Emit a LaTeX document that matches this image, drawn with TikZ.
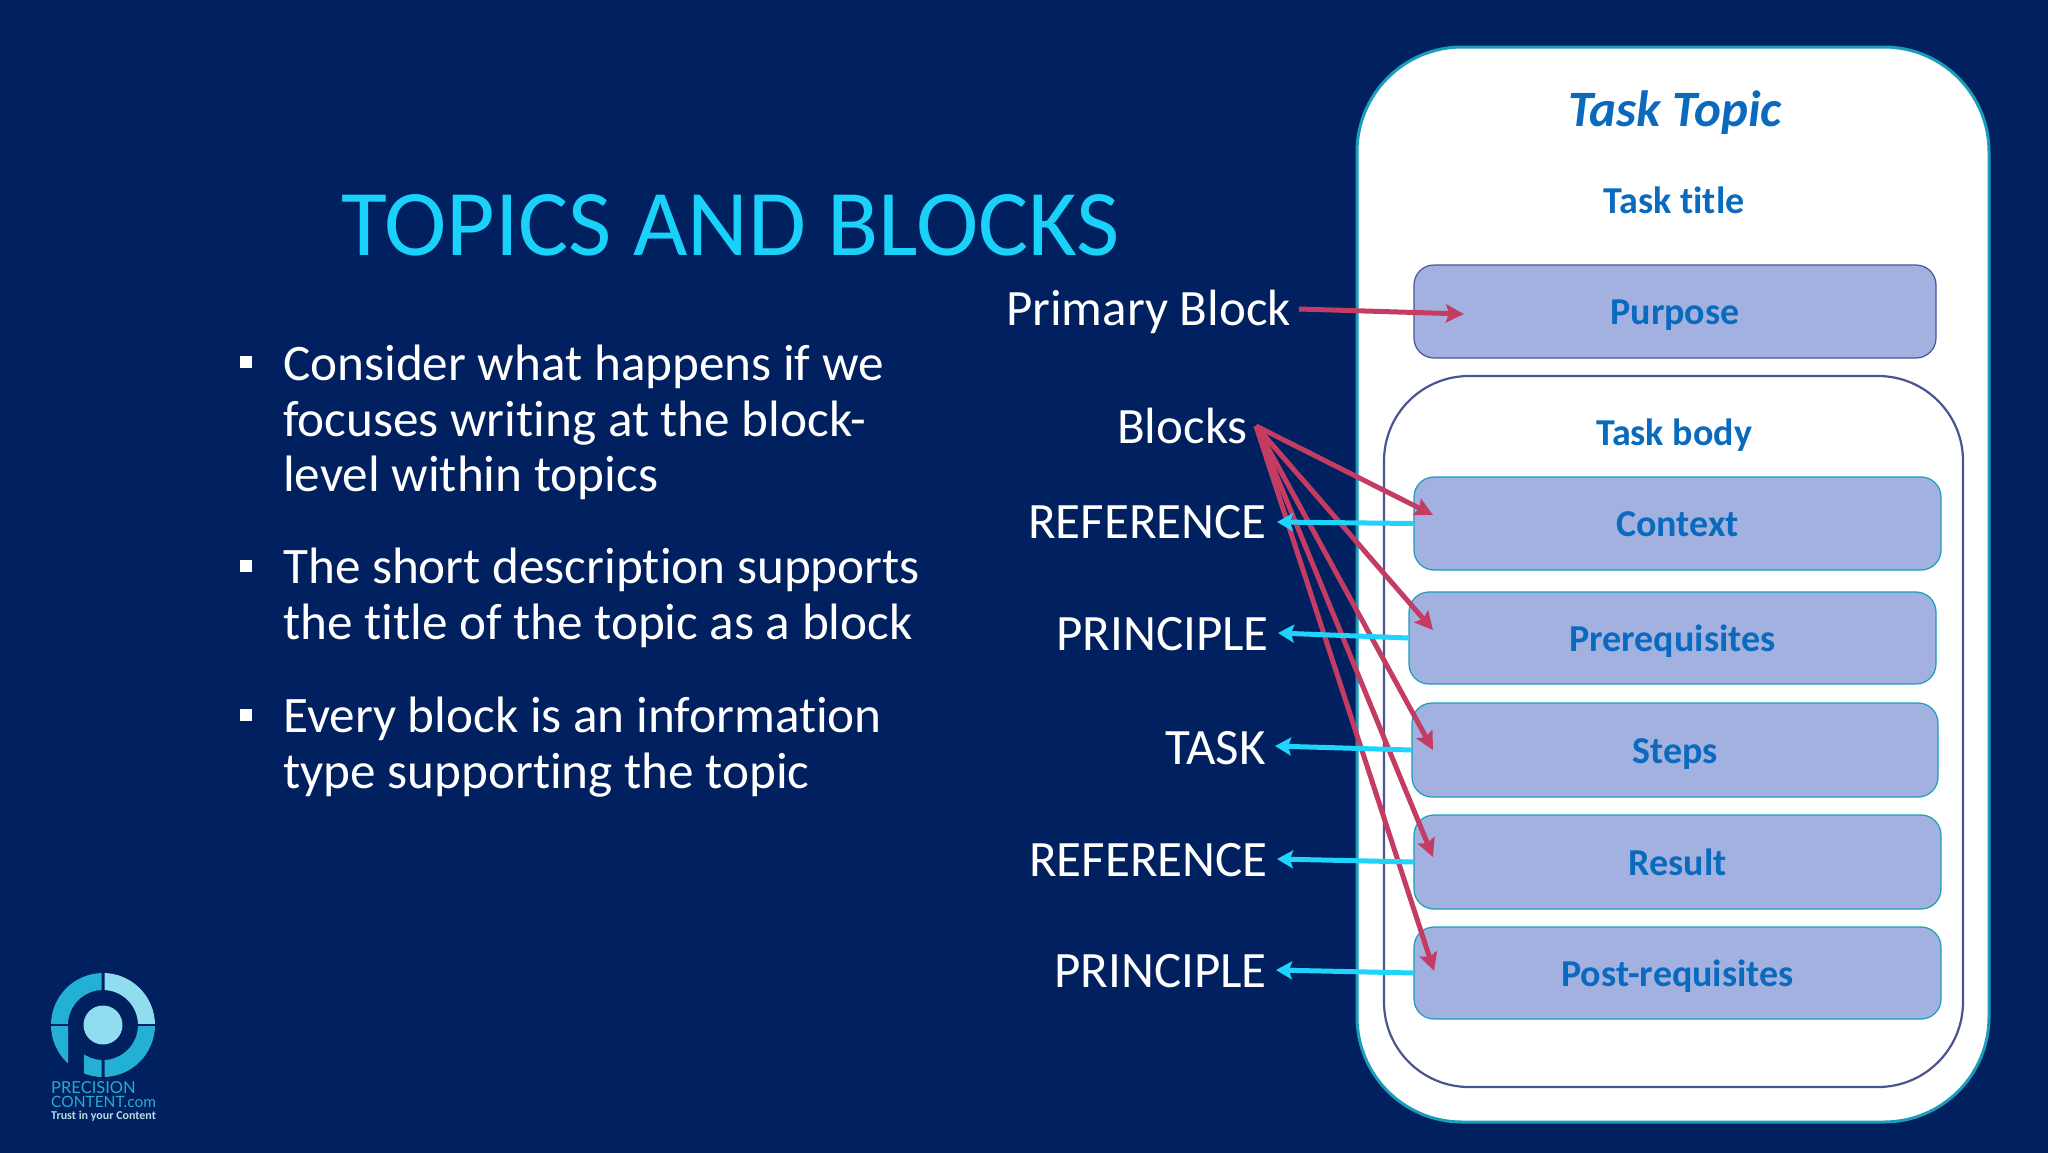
\documentclass[tikz,border=0pt]{standalone}
\usepackage{fontspec}
\setmainfont{Carlito}[Ligatures=CommonOff]
\newfontfamily\logofont{Lato}
\usetikzlibrary{arrows.meta}
\definecolor{bgnavy}{HTML}{01205F}
\definecolor{titlecyan}{HTML}{1AD1FA}
\definecolor{boxfill}{HTML}{A3B1E0}
\definecolor{bluetext}{HTML}{0A6BBE}
\definecolor{outerline}{HTML}{1A9DBB}
\definecolor{bodyline}{HTML}{4A5590}
\definecolor{arrowred}{HTML}{C43C62}
\definecolor{arrowcyan}{HTML}{1FD3FA}
\definecolor{logomid}{HTML}{22B0D5}
\definecolor{logolight}{HTML}{8FDDEE}
\definecolor{logotext}{HTML}{26ABD2}
\definecolor{logopale}{HTML}{B5DCE8}
\tikzset{
  x=1pt,y=-1pt,
  blockbox/.style={draw=outerline,line width=1.2pt,fill=boxfill,rounded corners=20pt,inner sep=0pt,
    text=bluetext,font=\fontsize{38}{42}\selectfont\bfseries,text height=26.5pt,text depth=0pt,align=center},
  side/.style={anchor=base east,inner sep=0pt,text=white,font=\fontsize{51}{55}\selectfont},
  head/.style={anchor=base,inner sep=0pt,text=bluetext},
  para/.style={anchor=north west,inner sep=0pt,text=white,align=left,font=\fontsize{51.2}{55.6}\selectfont},
  bullet/.style={fill=white,minimum size=12.5pt,inner sep=0pt,outer sep=0pt},
  red arrow/.style={draw=arrowred,line width=5pt,-{Stealth[length=18pt,width=18pt,inset=3pt]}},
  cyan arrow/.style={draw=arrowcyan,line width=5pt,-{Stealth[length=16pt,width=18pt,inset=3pt]}},
  logotxt/.style={anchor=base west,inner sep=0pt},
  logoring/.style={even odd rule},
}
\begin{document}
\begin{tikzpicture}
\useasboundingbox (0,0) rectangle (2048,1152);
\fill[bgnavy] (-6,-6) rectangle (2054,1158);

% title and bullets
\node[anchor=base west,inner sep=0pt,text=titlecyan,font=\fontsize{94}{100}\selectfont] (title) at (341,255) {TOPICS AND BLOCKS};
\node[bullet] (b1) at (246,362) {};
\node[bullet] (b2) at (246,566) {};
\node[bullet] (b3) at (246,715) {};
\node[para] (p1) at (283,341.5) {\strut Consider what happens if we\\focuses writing at the block-\\level within topics};
\node[para] (p2) at (283,544.5) {\strut The short description supports\\the title of the topic as a block};
\node[para] (p3) at (283,693.5) {\strut Every block is an information\\type supporting the topic};

% outer boxes
\node[draw=outerline,line width=3pt,fill=white,rounded corners=105pt,minimum width=632pt,minimum height=1075pt,inner sep=0pt] (topic) at (1673,584.5) {};
\node[draw=bodyline,line width=2.2pt,fill=white,rounded corners=85pt,minimum width=579pt,minimum height=711pt,inner sep=0pt] (body) at (1673.5,731.5) {};

\node[head,font=\fontsize{51}{55}\selectfont\bfseries\itshape] (tt) at (1675,126) {Task Topic};
\node[head,font=\fontsize{38}{42}\selectfont\bfseries] (ttitle) at (1674,213) {Task title};
\node[head,font=\fontsize{38}{42}\selectfont\bfseries] (tbody) at (1674,445) {Task body};

\node[blockbox,draw=bodyline,minimum width=522pt,minimum height=93pt] (pur) at (1675,311.5) {Purpose};
\node[blockbox,minimum width=527pt,minimum height=93pt] (ctx) at (1677.5,523.5) {Context};
\node[blockbox,minimum width=527pt,minimum height=92pt] (prq) at (1672.5,638) {Prerequisites};
\node[blockbox,minimum width=526pt,minimum height=94pt] (stp) at (1675,750) {Steps};
\node[blockbox,minimum width=527pt,minimum height=94pt] (res) at (1677.5,862) {Result};
\node[blockbox,minimum width=527pt,minimum height=92pt] (pst) at (1677.5,973) {Post-requisites};

% side labels
\node[side] (lprim) at (1291,325) {Primary Block};
\node[side] (lblk) at (1248,443) {Blocks};
\node[side] (lref1) at (1267,538) {REFERENCE};
\node[side] (lpri1) at (1269,650) {PRINCIPLE};
\node[side] (ltsk) at (1266,764) {TASK};
\node[side] (lref2) at (1268,876) {REFERENCE};
\node[side] (lpri2) at (1267,987) {PRINCIPLE};

% connector ends
\coordinate (psrc) at (1299,309);
\coordinate (ptip) at (1464,314);
\coordinate (bsrc) at (1256,426);
\coordinate (tctx) at (1433,515);
\coordinate (tprq) at (1433,630);
\coordinate (tstp) at (1433,750);
\coordinate (tres) at (1433,857);
\coordinate (tpst) at (1434,971);
\coordinate (cref1) at (1277,522);
\coordinate (cpri1) at (1278,633);
\coordinate (ctsk) at (1275,746);
\coordinate (cref2) at (1277,859);
\coordinate (cpri2) at (1276,970);

% connectors
\draw[red arrow] (psrc) -- (ptip);
\draw[red arrow] (bsrc) -- (tctx);
\draw[red arrow] (bsrc) -- (tprq);
\draw[red arrow] (bsrc) -- (tstp);
\draw[red arrow] (bsrc) -- (tres);
\draw[red arrow] (bsrc) -- (tpst);
\draw[cyan arrow] (ctx.west) -- (cref1);
\draw[cyan arrow] (prq.west) -- (cpri1);
\draw[cyan arrow] (stp.west) -- (ctsk);
\draw[cyan arrow] (res.west) -- (cref2);
\draw[cyan arrow] (pst.west) -- (cpri2);

% logo
\begin{scope}[shift={(103,1025)}]
  \begin{scope}
    \clip (-60,-60) rectangle (-1.5,-1.5);
    \fill[logomid,logoring] (0,0) circle[radius=52pt] (0,0) circle[radius=35pt];
  \end{scope}
  \begin{scope}
    \clip (1.5,-60) rectangle (60,-1.5);
    \fill[logolight,logoring] (0,0) circle[radius=52pt] (0,0) circle[radius=35pt];
  \end{scope}
  \begin{scope}
    \clip (1.5,1.5) rectangle (60,60);
    \fill[logomid,logoring] (0,0) circle[radius=52pt] (0,0) circle[radius=35pt];
  \end{scope}
  \begin{scope}
    \clip (-60,1.5) rectangle (-35,60);
    \fill[logomid] (0,0) circle[radius=52pt];
  \end{scope}
  \begin{scope}
    \clip (-19,1.5) rectangle (-1.5,60);
    \fill[logomid,logoring] (0,0) circle[radius=52pt] (0,0) circle[radius=35pt];
  \end{scope}
  \fill[logolight] (0,0) circle[radius=19.5pt];
\end{scope}
\node[logotxt,text=logotext,font=\logofont\fontsize{16.5}{18}\selectfont] (lg1) at (51,1093) {PRECISION};
\node[logotxt,text=logotext,font=\logofont\fontsize{15.5}{17}\selectfont] (lg2) at (51,1107) {CONTENT.com};
\node[logotxt,text=logopale,font=\fontsize{12}{14}\selectfont\bfseries] (lg3) at (51,1119) {Trust in your Content};
\end{tikzpicture}
\end{document}
